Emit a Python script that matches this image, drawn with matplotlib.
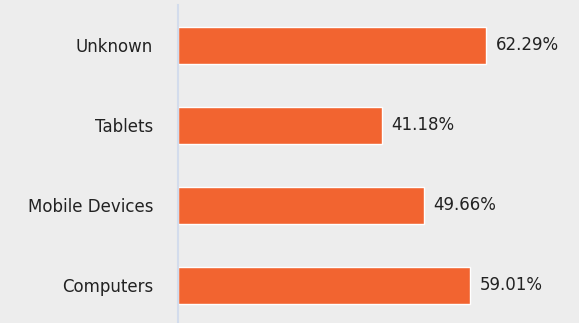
import matplotlib
matplotlib.use("Agg")
import matplotlib.pyplot as plt

categories = ["Computers", "Mobile Devices", "Tablets", "Unknown"]
values = [59.01, 49.66, 41.18, 62.29]

bg = "#EDEDED"
fig = plt.figure(figsize=(5.79, 3.23), dpi=100, facecolor=bg)
ax = fig.add_axes([178/579, 0, 1 - 178/579, 1 - 5/323], facecolor=bg)

y = list(range(len(categories)))
ax.barh(y, values, height=0.46, color="#F26430", edgecolor="white", linewidth=1)
for yi, v in zip(y, values):
    ax.text(v + 1.9, yi, f"{v:.2f}%", va="center", ha="left", fontsize=12, color="#222222")

ax.set_xlim(0, 81)
ax.set_ylim(-0.469, 3.506)
ax.set_yticks(y)
ax.set_yticklabels(categories, fontsize=12, color="#222222")
ax.tick_params(axis="y", length=0, pad=18)
ax.set_xticks([])
for s in ["top", "right", "bottom"]:
    ax.spines[s].set_visible(False)
ax.spines["left"].set_color("#D3DCEC")
ax.spines["left"].set_linewidth(1.5)

fig.savefig("out.png", dpi=100, facecolor=bg)
